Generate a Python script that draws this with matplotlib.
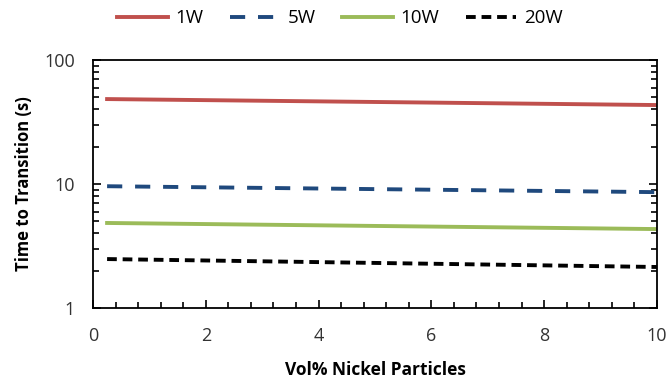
import numpy as np
import matplotlib.pyplot as plt
from matplotlib.ticker import MultipleLocator, LogLocator, NullFormatter

plt.rcParams['font.family'] = ['Open Sans', 'DejaVu Sans']

# vol% nickel particles (first and last sample)
vol_pct = [0.25, 10]

# time to transition (s) per heater power
t_1w = [48.5, 43.4]
t_5w = [9.6, 8.6]
t_10w = [4.85, 4.33]
t_20w = [2.48, 2.14]

labels = ['1W', '5W', '10W', '20W']

fig = plt.figure(figsize=(6.69, 3.83), dpi=100)
ax = fig.add_axes([0.139, 0.196, 0.843, 0.647])

lw = 2.8
ax.plot(vol_pct, t_1w, color='#C0504D', lw=lw, label=labels[0])
ax.plot(vol_pct, t_5w, color='#1F497D', lw=lw, dashes=(3.9, 3.3), label=labels[1])
ax.plot(vol_pct, t_10w, color='#9BBB59', lw=lw, label=labels[2])
ax.plot(vol_pct, t_20w, color='black', lw=lw, dashes=(2.5, 1.5), label=labels[3])

ax.set_yscale('log')
ax.set_ylim(1, 100)
ax.set_xlim(0, 10)
ax.xaxis.set_major_locator(MultipleLocator(2))
ax.xaxis.set_minor_locator(MultipleLocator(0.4))
ax.yaxis.set_minor_locator(LogLocator(base=10, subs=np.arange(2, 10)))
ax.yaxis.set_minor_formatter(NullFormatter())
ax.set_yticks([1, 10, 100])
ax.set_yticklabels(['1', '10', '100'])

ax.tick_params(which='both', direction='in', right=True, width=1.2, labelsize=13,
               colors='black', labelcolor='#333333')
ax.tick_params(which='major', length=6)
ax.tick_params(which='minor', length=4)
ax.tick_params(axis='x', which='major', pad=14)
ax.tick_params(axis='y', which='major', pad=13)
for s in ax.spines.values():
    s.set_linewidth(1.3)

ax.set_xlabel('Vol% Nickel Particles', fontsize=12.5, fontweight='bold', labelpad=11)
ax.set_ylabel('Time to Transition (s)', fontsize=12, fontweight='bold', labelpad=8)

fig.legend(loc='upper center', bbox_to_anchor=(0.508, 1.02), ncol=4, frameon=False,
           fontsize=13.5, handlelength=2.7, columnspacing=1.4, handletextpad=0.4)

fig.savefig('out.png', dpi=100)
